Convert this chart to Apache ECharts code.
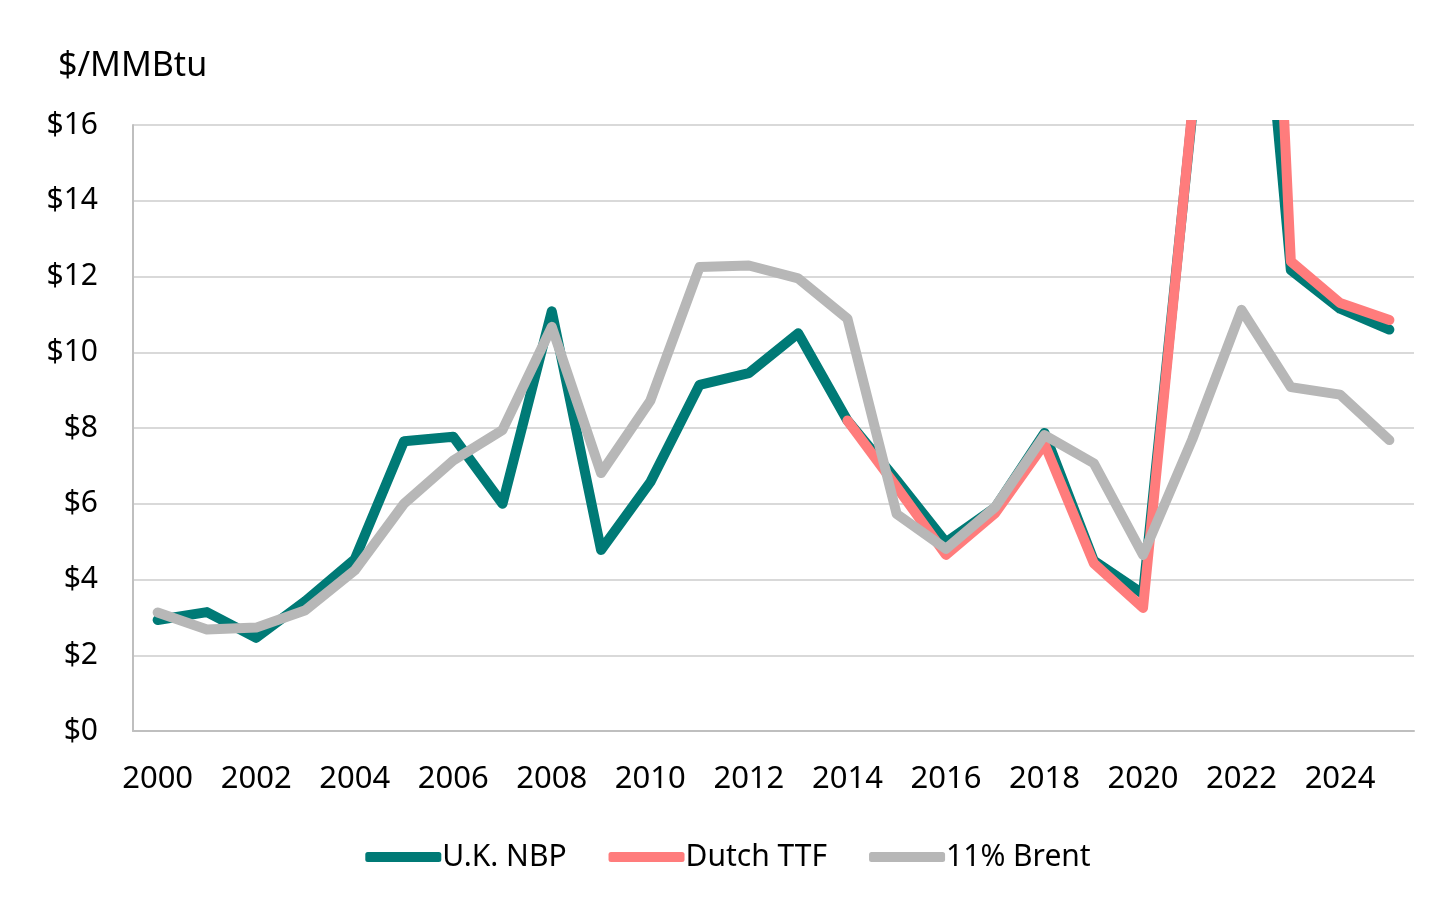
<!DOCTYPE html>
<html>
<head>
<meta charset="utf-8">
<script src="https://cdn.jsdelivr.net/npm/echarts@6/dist/echarts.min.js"></script>
<style>
html,body{margin:0;padding:0;background:#fff;}
#c{width:1456px;height:911px;}
</style>
</head>
<body>
<div id="c"></div>
<script>
var years = ['2000','2001','2002','2003','2004','2005','2006','2007','2008','2009','2010','2011','2012','2013','2014','2015','2016','2017','2018','2019','2020','2021','2022','2023','2024','2025'];
var ukNBP = [2.93,3.14,2.46,3.43,4.53,7.65,7.77,6.0,11.08,4.78,6.57,9.14,9.45,10.5,8.2,6.62,4.98,5.9,7.87,4.5,3.62,16.3,26.5,12.17,11.15,10.6];
var dutchTTF = [null,null,null,null,null,null,null,null,null,null,null,null,null,null,8.2,6.44,4.65,5.75,7.58,4.43,3.25,16.4,40.0,12.4,11.3,10.85];
var brent11 = [3.13,2.68,2.73,3.19,4.24,6.0,7.14,7.95,10.67,6.81,8.72,12.25,12.29,11.95,10.89,5.73,4.81,5.91,7.81,7.07,4.65,7.7,11.12,9.08,8.88,7.68];
var yTicks = [0,2,4,6,8,10,12,14,16];

var chart = echarts.init(document.getElementById('c'));
var font = 'Noto Sans';
function lineSeries(name, data, color){
  return {
    name: name, type: 'line', data: data, symbol: 'none', clip: true,
    connectNulls: false,
    lineStyle: {color: color, width: 10, cap: 'round', join: 'round'},
    itemStyle: {color: color}
  };
}
chart.setOption({
  animation: false,
  backgroundColor: '#ffffff',
  textStyle: {fontFamily: font},
  title: {
    text: '$/MMBtu', left: 53, top: 44,
    textStyle: {fontFamily: font, fontSize: 34, fontWeight: 'normal', color: '#000'}
  },
  grid: {left: 133, right: 42, top: 125, bottom: 180, containLabel: false},
  legend: {
    bottom: 34, left: 'center',
    icon: 'roundRect', itemWidth: 76, itemHeight: 10, itemGap: 42,
    textStyle: {fontFamily: font, fontSize: 30, color: '#000', padding: [0,0,0,-4]},
    data: ['U.K. NBP','Dutch TTF','11% Brent']
  },
  xAxis: {
    type: 'category', data: years, boundaryGap: true,
    axisLine: {lineStyle: {color: '#BFBFBF', width: 2}},
    axisTick: {show: false},
    axisLabel: {interval: 1, fontFamily: font, fontSize: 31, color: '#000', margin: 33}
  },
  yAxis: {
    type: 'value', min: 0, max: 16, interval: 2,
    axisLine: {show: true, lineStyle: {color: '#BFBFBF', width: 2}},
    axisTick: {show: false},
    splitLine: {lineStyle: {color: '#D9D9D9', width: 2}},
    axisLabel: {fontFamily: font, fontSize: 30, color: '#000', margin: 35,
      formatter: function(v){ return yTicks.indexOf(v) >= 0 ? '$' + v : ''; }}
  },
  series: [
    lineSeries('U.K. NBP', ukNBP, '#007A76'),
    lineSeries('Dutch TTF', dutchTTF, '#FF7C7C'),
    lineSeries('11% Brent', brent11, '#B7B7B7')
  ]
});
</script>
</body>
</html>
